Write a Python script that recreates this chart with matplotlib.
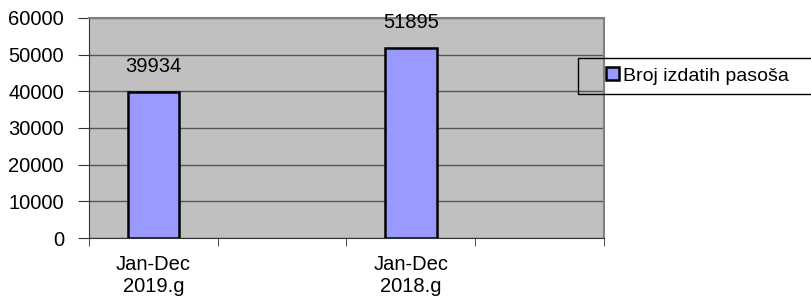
import matplotlib
matplotlib.use("Agg")
import matplotlib.pyplot as plt
from matplotlib.lines import Line2D
import numpy as np

plt.rcParams['font.family'] = ['Liberation Sans', 'DejaVu Sans']

# data (4 category slots, 2nd and 4th are empty)
categories = ["Jan-Dec\n2019.g", "", "Jan-Dec\n2018.g", ""]
values = [39934, np.nan, 51895, np.nan]
series_name = "Broj izdatih pasoša"
y_ticks = [0, 10000, 20000, 30000, 40000, 50000, 60000]

W, H = 812, 298
fig = plt.figure(figsize=(W / 100, H / 100), dpi=100)
ax = fig.add_axes([89 / W, 1 - 238 / H, (604 - 89) / W, (238 - 18) / H])
ax.set_facecolor('#c0c0c0')

x = np.arange(len(categories))
ax.bar(x, values, width=0.4, color='#9999ff', edgecolor='black',
       linewidth=1.8, label=series_name, zorder=3)

for xi, v in zip(x, values):
    if not np.isnan(v):
        ax.text(xi, v + 4300, str(int(v)), ha='center', va='bottom',
                fontsize=14.5, zorder=4, clip_on=False)

ax.set_xlim(-0.5, len(categories) - 0.5)
ax.set_ylim(0, 60000)
ax.set_yticks(y_ticks)
ax.set_yticklabels([str(t) for t in y_ticks], fontsize=14.5)
ax.yaxis.grid(True, color='#555555', linewidth=1.0, zorder=1)

ax.set_xticks(x)
ax.set_xticklabels(categories, fontsize=14.5, linespacing=1.25)
ax.set_xticks(np.arange(-0.5, len(categories)), minor=True)
ax.tick_params(axis='x', which='major', length=0, pad=12)
ax.tick_params(axis='x', which='minor', length=6, color='#333333')
ax.tick_params(axis='y', length=8, color='#333333', pad=10)

for s in ['top', 'right']:
    ax.spines[s].set_color('#808080')
    ax.spines[s].set_linewidth(1.5)
ax.spines['left'].set_color('#333333')
ax.spines['bottom'].set_color('#333333')

# legend box runs off the right edge in the original: open on the right
x0, x1 = 578 / W, 1.05
y0, y1 = 1 - 94 / H, 1 - 58 / H
fig.add_artist(Line2D([x1, x0, x0, x1], [y1, y1, y0, y0],
                      transform=fig.transFigure, color='black', linewidth=1.0))
fig.legend(loc='center left', bbox_to_anchor=(606 / W, 1 - 76 / H),
           fontsize=14, frameon=False,
           handlelength=0.65, handleheight=0.65, handletextpad=0.25,
           borderpad=0, borderaxespad=0)

fig.savefig("out.png", dpi=100)
